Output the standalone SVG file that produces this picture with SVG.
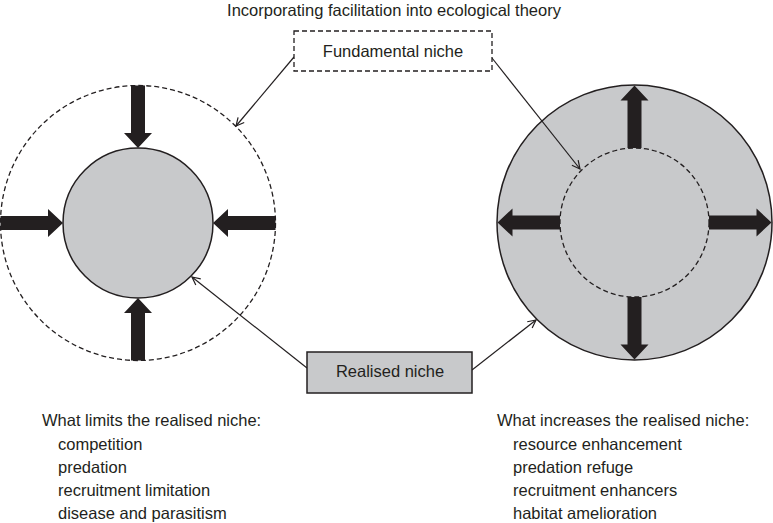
<svg xmlns="http://www.w3.org/2000/svg" width="773" height="523" viewBox="0 0 773 523">
<style>
text{font-family:"Liberation Sans",Arial,Helvetica,sans-serif;font-size:16.5px;fill:#231f20}
.c{text-anchor:middle}
.solid{stroke:#231f20;stroke-width:1.5}
.dash{stroke:#231f20;stroke-width:1.3;stroke-dasharray:5 3;fill:none}
.grey{fill:#c8c9cb}
.big{fill:#231f20}
.conn{stroke:#231f20;stroke-width:1.2;fill:none;marker-end:url(#open)}
</style>
<defs>
<marker id="open" viewBox="-10 -6 12 12" refX="0" refY="0" markerWidth="12" markerHeight="12" markerUnits="userSpaceOnUse" orient="auto">
<path d="M-8,-4 L0,0 L-8,4" fill="none" stroke="#231f20" stroke-width="1.2"/>
</marker>
<path id="arr" class="big" d="M0,-7 H47.5 V-14 L62.5,0 L47.5,14 V7 H0 Z"/>
</defs>
<rect width="773" height="523" fill="#fff"/>
<text id="title" class="c" x="394" y="16">Incorporating facilitation into ecological theory</text>

<g id="left-diagram">
<circle id="left-fundamental" class="dash" cx="138" cy="223" r="137.5"/>
<circle id="left-realised" class="grey solid" cx="138" cy="223" r="75"/>
<g id="left-arrows">
<use href="#arr" transform="translate(0.5,223)"/>
<use href="#arr" transform="translate(138,85.5) rotate(90)"/>
<use href="#arr" transform="translate(275.5,223) rotate(180)"/>
<use href="#arr" transform="translate(138,360.5) rotate(-90)"/>
</g>
</g>

<g id="right-diagram">
<circle id="right-realised" class="grey solid" cx="634.5" cy="222.5" r="137.5"/>
<circle id="right-fundamental" class="dash" cx="634.5" cy="222.5" r="74.5"/>
<g id="right-arrows">
<use href="#arr" transform="translate(634.5,148) rotate(-90)"/>
<use href="#arr" transform="translate(709,222.5)"/>
<use href="#arr" transform="translate(634.5,297) rotate(90)"/>
<use href="#arr" transform="translate(560,222.5) rotate(180)"/>
</g>
</g>

<g id="connectors">
<line class="conn" x1="294" y1="57" x2="236" y2="126"/>
<line class="conn" x1="492" y1="58" x2="580" y2="169"/>
<line class="conn" x1="307" y1="368" x2="192" y2="277"/>
<line class="conn" x1="472" y1="370" x2="536" y2="320"/>
</g>

<g id="fundamental-niche">
<rect class="dash" x="294" y="31" width="198" height="40" style="fill:#fff"/>
<text class="c" x="393" y="57">Fundamental niche</text>
</g>

<g id="realised-niche">
<rect class="grey solid" x="307" y="352" width="165" height="41"/>
<text class="c" x="390" y="377">Realised niche</text>
</g>

<g id="limits-list">
<text x="42" y="426">What limits the realised niche:</text>
<text x="58" y="449.5">competition</text>
<text x="58" y="473">predation</text>
<text x="58" y="496">recruitment limitation</text>
<text x="58" y="519">disease and parasitism</text>
</g>

<g id="increases-list">
<text x="497" y="426">What increases the realised niche:</text>
<text x="513" y="449.5">resource enhancement</text>
<text x="513" y="473">predation refuge</text>
<text x="513" y="496">recruitment enhancers</text>
<text x="513" y="519">habitat amelioration</text>
</g>
</svg>
